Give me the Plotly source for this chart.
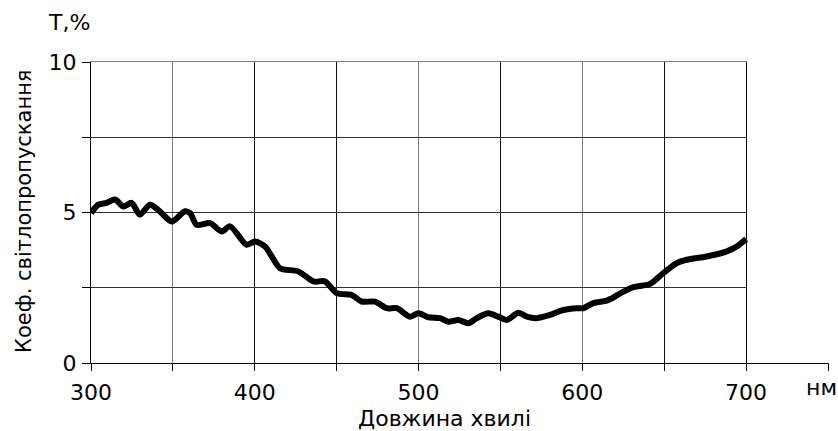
import plotly.graph_objects as go

wavelength = [300, 304.5, 309.6, 314.7, 319.7, 324.8, 329.9, 336, 342, 349.3, 357.4, 360.5,
              364.5, 372.7, 379.8, 384.9, 395, 400.2, 406.3, 410.4, 415.4, 426.6, 435.8,
              442.9, 450, 459.2, 465.3, 473.4, 480.6, 486.7, 494.8, 499.9, 506, 513.1,
              518.2, 524.3, 530.4, 535.5, 542.6, 548.7, 553.9, 560.9, 566.1, 572.2, 580.3,
              588.4, 596.6, 600.6, 606.7, 614.9, 618, 625.1, 631.2, 641.4, 649.5, 657.7,
              663.8, 676, 688.2, 694.3, 700]
transmission = [4.98, 5.26, 5.32, 5.43, 5.20, 5.32, 4.93, 5.26, 5.04, 4.70, 5.04, 4.98,
                4.59, 4.65, 4.37, 4.54, 3.93, 4.04, 3.87, 3.54, 3.15, 3.04, 2.71,
                2.71, 2.32, 2.26, 2.04, 2.04, 1.82, 1.82, 1.54, 1.65, 1.52, 1.49,
                1.37, 1.43, 1.32, 1.49, 1.65, 1.54, 1.43, 1.67, 1.54, 1.49, 1.60,
                1.76, 1.82, 1.82, 1.99, 2.07, 2.15, 2.37, 2.52, 2.63, 2.99, 3.32,
                3.43, 3.54, 3.71, 3.87, 4.12]

x_tickvals = [300, 350, 400, 450, 500, 550, 600, 650, 700, 750]
x_ticktext = ["300", "", "400", "", "500", "", "600", "", "700", ""]
y_tickvals = [0, 2.5, 5, 7.5, 10]
y_ticktext = ["0", "", "5", "", "10"]

FONT = "DejaVu Sans, Liberation Sans, Arial, sans-serif"
FS = 22

fig = go.Figure()
# empty trace keeps the grid subplot alive
fig.add_trace(go.Scatter(x=[], y=[], xaxis="x", yaxis="y", showlegend=False))
fig.add_trace(go.Scatter(
    x=wavelength, y=transmission, xaxis="x2", yaxis="y2",
    mode="lines", line=dict(color="black", width=6, shape="spline", smoothing=0.8),
    showlegend=False, hoverinfo="skip"))

fig.update_layout(
    width=838, height=431,
    margin=dict(l=91, r=10, t=62, b=68),
    paper_bgcolor="white", plot_bgcolor="rgba(0,0,0,0)",
    font=dict(family=FONT, size=FS, color="black"),
    xaxis=dict(domain=[0, 400 / 450], range=[300, 700], anchor="y",
               tickvals=[400, 450, 550, 650], showticklabels=False, ticks="",
               showgrid=True, gridcolor="#111111", gridwidth=1,
               minor=dict(tickvals=[350, 500, 600], showgrid=True,
                          gridcolor="#808080", gridwidth=1, ticks=""),
               showline=True, linecolor="#808080", linewidth=1, mirror=True,
               zeroline=False, fixedrange=True),
    yaxis=dict(domain=[0, 1], range=[0, 10], anchor="x",
               tickvals=y_tickvals, ticktext=y_ticktext, ticks="outside",
               ticklen=8, tickwidth=1, tickcolor="black", ticklabelstandoff=1,
               showgrid=True, gridcolor="#333333", gridwidth=1,
               showline=True, linecolor="black", linewidth=1, mirror=True,
               zeroline=False, tickfont=dict(size=FS), fixedrange=True),
    xaxis2=dict(domain=[0, 1], range=[300, 750], anchor="y2",
                tickvals=x_tickvals, ticktext=x_ticktext, ticks="outside",
                ticklen=7, tickwidth=1, tickcolor="black", ticklabelstandoff=3,
                showgrid=False, showline=True, linecolor="black", linewidth=1,
                zeroline=False, tickfont=dict(size=FS), fixedrange=True),
    yaxis2=dict(domain=[0, 1], range=[0, 10], anchor="x2", overlaying="y",
                showgrid=False, showticklabels=False, ticks="", showline=False,
                zeroline=False, fixedrange=True),
    annotations=[
        dict(text="T,%", xref="paper", yref="paper", x=(69 - 91) / 737, y=(363 - 22) / 301,
             showarrow=False, font=dict(size=FS), xanchor="center", yanchor="middle"),
        dict(text="нм", xref="paper", yref="paper", x=(821 - 91) / 737, y=(363 - 387) / 301,
             showarrow=False, font=dict(size=FS), xanchor="center", yanchor="middle"),
        dict(text="Довжина хвилі", xref="paper", yref="paper", x=(444 - 91) / 737,
             y=(363 - 418) / 301, showarrow=False, font=dict(size=22),
             xanchor="center", yanchor="middle"),
        dict(text="Коеф. світлопропускання", xref="paper", yref="paper",
             x=(24 - 91) / 737, y=(363 - 211) / 301, textangle=-90, showarrow=False,
             font=dict(size=21), xanchor="center", yanchor="middle"),
    ],
)

fig.write_html("out.html")
